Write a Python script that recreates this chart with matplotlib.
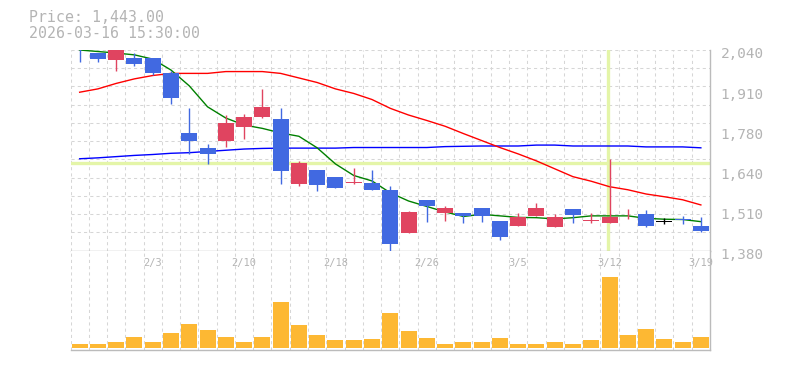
import matplotlib
matplotlib.use("Agg")
import matplotlib.pyplot as plt
import numpy as np
from matplotlib.transforms import blended_transform_factory, ScaledTranslation

# ---------------- data ----------------
dates = ["1/28", "1/29", "1/30", "2/2", "2/3", "2/4", "2/5", "2/6", "2/9", "2/10",
         "2/12", "2/13", "2/16", "2/17", "2/18", "2/19", "2/20", "2/24", "2/25", "2/26",
         "2/27", "3/2", "3/3", "3/4", "3/5", "3/6", "3/9", "3/10", "3/11", "3/12",
         "3/13", "3/16", "3/17", "3/18", "3/19"]
label_dates = ["2/3", "2/10", "2/18", "2/26", "3/5", "3/12", "3/19"]

opens  = [2045, 2030, 2007, 2014, 2014, 1965, 1767, 1718, 1739, 1788,
          1818, 1813, 1599, 1645, 1622, 1603, 1603, 1580, 1436, 1547,
          1504, 1504, 1520, 1478, 1462, 1492, 1459, 1517, 1478, 1471,
          1502, 1501, 1476, 1484, 1461]
highs  = [2045, 2030, 2040, 2029, 2014, 1971, 1849, 1731, 1826, 1830,
          1912, 1849, 1676, 1645, 1622, 1652, 1645, 1593, 1510, 1547,
          1525, 1504, 1520, 1478, 1504, 1537, 1501, 1517, 1504, 1682,
          1517, 1514, 1488, 1494, 1491]
lows   = [2002, 2002, 1972, 1988, 1959, 1863, 1699, 1666, 1722, 1748,
          1817, 1599, 1593, 1577, 1586, 1599, 1578, 1380, 1436, 1475,
          1478, 1472, 1475, 1413, 1462, 1492, 1459, 1469, 1471, 1471,
          1484, 1456, 1468, 1468, 1442]
closes = [2039, 2011, 2040, 1994, 1965, 1883, 1742, 1699, 1800, 1820,
          1853, 1643, 1668, 1596, 1586, 1607, 1578, 1403, 1507, 1527,
          1521, 1495, 1495, 1423, 1491, 1520, 1491, 1497, 1481, 1491,
          1505, 1461, 1476, 1479, 1445]

ma_short = [2040, 2035, 2030, 2024, 2010, 1974, 1922, 1853, 1816, 1793,
            1782, 1767, 1756, 1718, 1665, 1627, 1609, 1570, 1543, 1525,
            1507, 1492, 1499, 1494, 1489, 1488, 1484, 1488, 1494, 1494,
            1494, 1486, 1483, 1482, 1475]
ma_mid = [1901, 1912, 1930, 1945, 1956, 1963, 1963, 1963, 1969, 1969,
          1969, 1963, 1948, 1933, 1912, 1897, 1877, 1848, 1826, 1808,
          1789, 1765, 1742, 1719, 1698, 1675, 1649, 1623, 1608, 1590,
          1580, 1566, 1557, 1547, 1530]
ma_long = [1682, 1685, 1689, 1693, 1696, 1700, 1702, 1706, 1710, 1714,
           1716, 1717, 1717, 1717, 1717, 1719, 1719, 1719, 1719, 1719,
           1722, 1723, 1724, 1724, 1724, 1727, 1727, 1724, 1724, 1724,
           1724, 1721, 1721, 1721, 1718]

volumes = [37, 37, 57, 107, 57, 147, 237, 177, 107, 57,
           107, 457, 227, 127, 77, 77, 87, 347, 167, 97,
           37, 57, 57, 97, 37, 37, 57, 37, 77, 707,
           127, 187, 87, 57, 107]

price_ticks = [1380, 1512, 1644, 1776, 1908, 2040]
price_tick_labels = ["1,380", "1,510", "1,640", "1,780", "1,910", "2,040"]

header_price = "Price: 1,443.00"
header_time = "2026-03-16 15:30:00"
cross_index = 29
cross_price = 1667

# ---------------- style ----------------
plt.rcParams['font.family'] = ['DejaVu Sans Mono', 'DejaVu Sans']
UP = '#E04460'
DOWN = '#4169E1'
VOLC = '#FDB833'
GRID = '#d6d6d6'
FRAME = '#bbbbbb'
TXT = '#b4b4b4'
CROSS = '#E4F5A8'

W, H = 785, 370
fig = plt.figure(figsize=(W / 100, H / 100), dpi=100)
x0, x1 = 70.5, 710
ax = fig.add_axes([x0 / W, (H - 250.5) / H, (x1 - x0) / W, 200.5 / H])
axv = fig.add_axes([x0 / W, (H - 350) / H, (x1 - x0) / W, 99.5 / H])

n = len(dates)
idx = np.arange(n)
bw = 0.875

for a in (ax, axv):
    a.set_xlim(-0.5, n - 0.5)
    a.set_facecolor('white')
    for s in ('top', 'left'):
        a.spines[s].set_visible(False)
    for s in ('bottom', 'right'):
        a.spines[s].set_color(FRAME)
        a.spines[s].set_linewidth(1.0)
    a.set_xticks([])
    for k in range(n):
        a.axvline(k - 0.5, color=GRID, lw=0.75, ls=(0, (3, 3)), zorder=0.5)

# price panel
ax.set_ylim(price_ticks[0], price_ticks[-1])
for g in np.linspace(price_ticks[0], price_ticks[-1], 12)[1:]:
    ax.axhline(g, color=GRID, lw=0.75, ls=(0, (3, 3)), zorder=0.5)

# crosshair
ax.axhline(cross_price, color=CROSS, lw=2.4, zorder=0.8)
ax.axvline(cross_index - 0.07, color=CROSS, lw=2.4, zorder=0.8)

# moving averages
ax.plot(idx, ma_long, color='#0000ff', lw=1.0, zorder=2)
ax.plot(idx, ma_mid, color='#ff0000', lw=1.0, zorder=2)
ax.plot(idx, ma_short, color='#008000', lw=1.0, zorder=2)

# candles
o = np.array(opens, float); c = np.array(closes, float)
hi = np.array(highs, float); lo = np.array(lows, float)
cols = [UP if cc > oo else (DOWN if cc < oo else '#000000') for oo, cc in zip(o, c)]
ax.vlines(idx, lo, hi, colors=cols, lw=1.0, zorder=3)
bottoms = np.minimum(o, c)
heights = np.maximum(np.abs(c - o), 3.0)
ax.bar(idx, heights, bottom=bottoms - np.where(np.abs(c - o) < 3, 1.5, 0),
       width=bw, color=cols, zorder=3.5, linewidth=0)

ax.yaxis.tick_right()
ax.set_yticks(price_ticks)
ax.set_yticklabels(price_tick_labels)
ax.tick_params(axis='y', length=0, pad=7.5, labelsize=10.4, labelcolor=TXT)
shift = ScaledTranslation(0, -3 / 100, fig.dpi_scale_trans)
for t in ax.yaxis.get_major_ticks():
    t.label2.set_transform(t.label2.get_transform() + shift)

# volume panel
axv.bar(idx, volumes, width=bw, color=VOLC, linewidth=0, zorder=2)
axv.set_ylim(-23, 972)
axv.set_yticks([])
tr = blended_transform_factory(axv.transData, axv.transAxes)
for lab in label_dates:
    i = dates.index(lab)
    axv.text(i, 0.879, lab, transform=tr, ha='center', va='center',
             fontsize=7.5, color=TXT, zorder=1, clip_on=False)

# header
fig.text(29.3 / W, 1 - 17.5 / H, header_price, ha='left', va='center',
         fontsize=10.7, color=TXT)
fig.text(29.3 / W, 1 - 33 / H, header_time, ha='left', va='center',
         fontsize=10.7, color=TXT)

fig.savefig('out.png', dpi=100, facecolor='white')
